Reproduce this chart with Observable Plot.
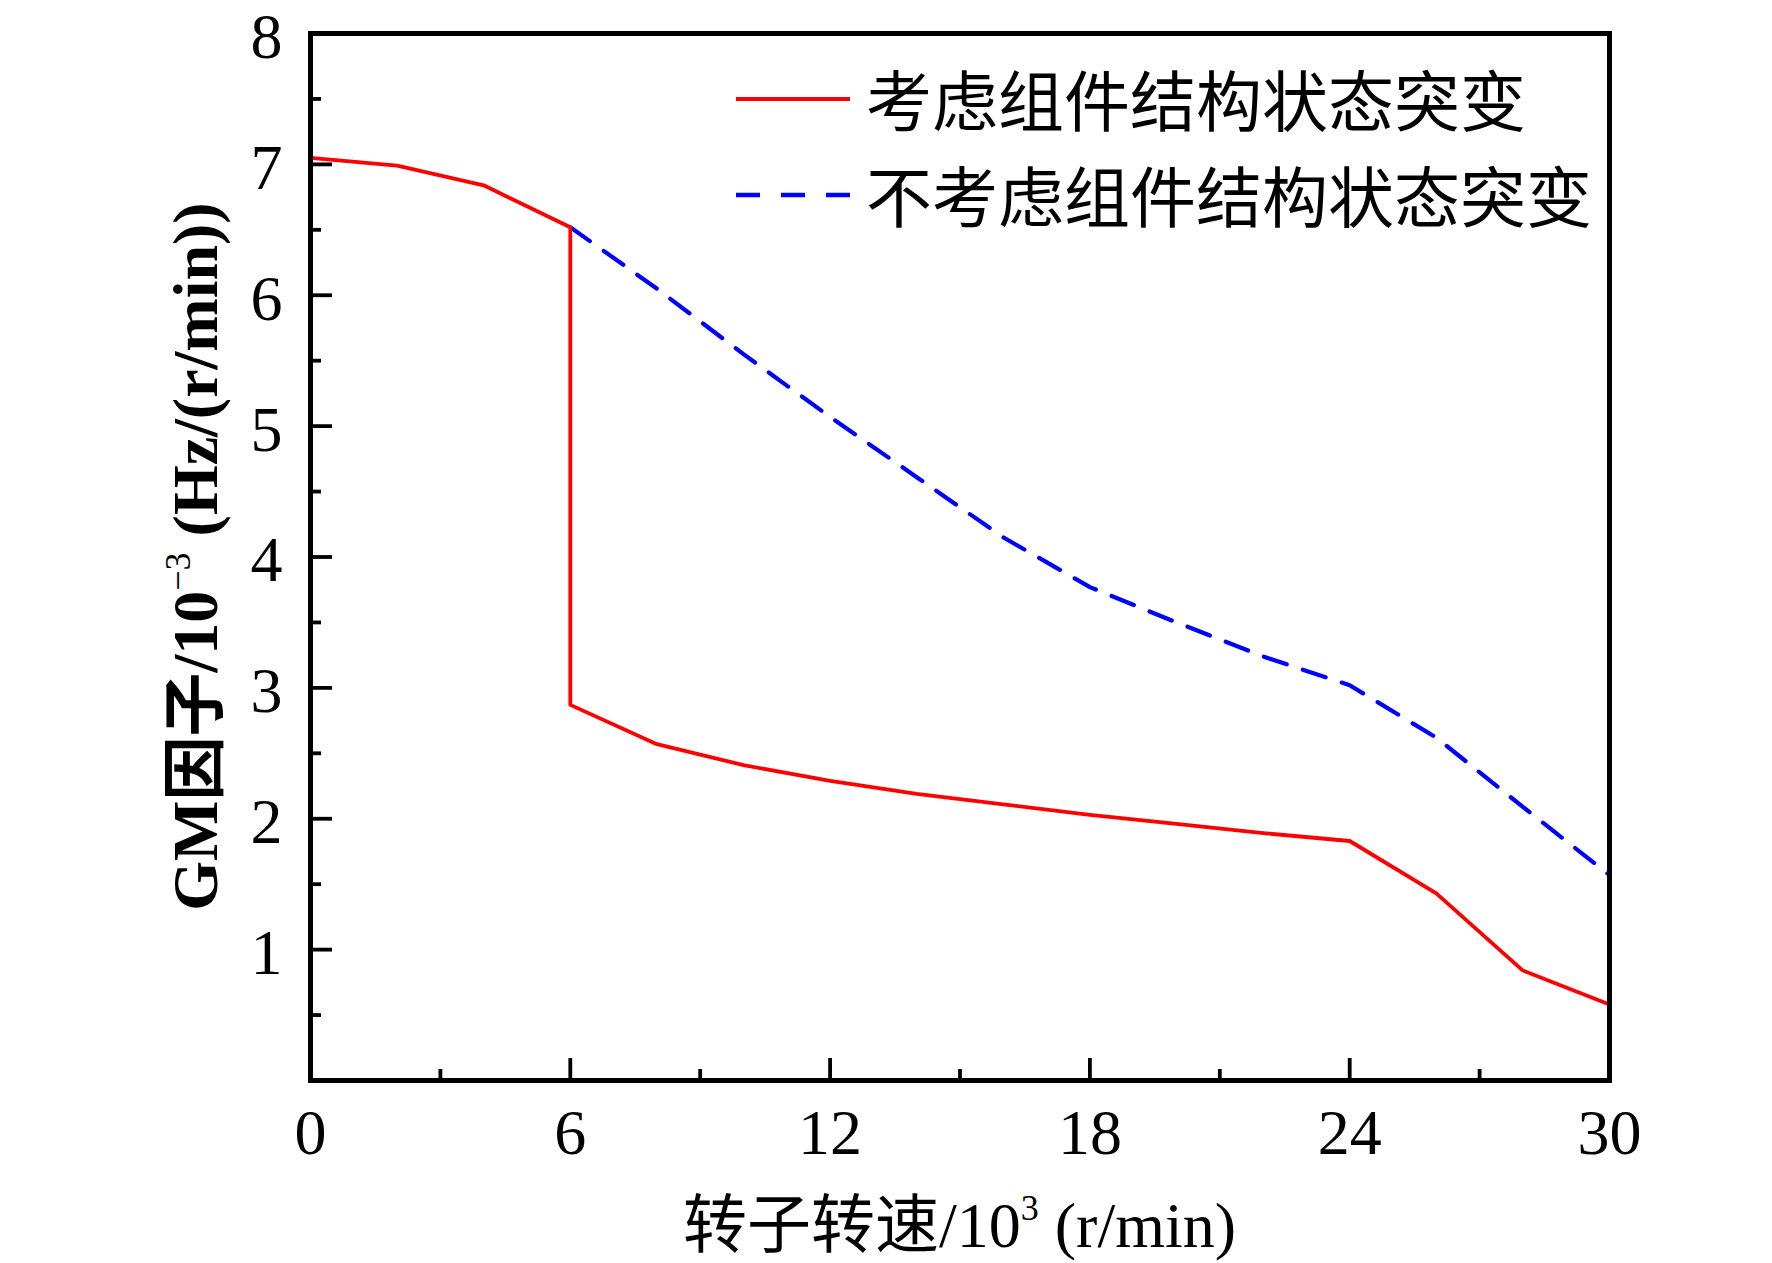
<!DOCTYPE html>
<html>
<head>
<meta charset="utf-8">
<script src="https://cdn.jsdelivr.net/npm/d3@7"></script>
<script src="https://cdn.jsdelivr.net/npm/@observablehq/plot@0.6"></script>
<style>
  html, body { margin: 0; padding: 0; background: #ffffff; }
  #chart { width: 1772px; height: 1263px; }
</style>
</head>
<body>
<div id="chart"></div>
<script>
// ---- data (rotor speed in 10^3 r/min, GM factor in 10^-3 Hz/(r/min)) ----
const speedWith = [0, 2, 4, 6, 6, 8, 10, 12, 14, 16, 18, 20, 22, 24, 26, 28, 30];
const gmWith    = [7.05, 6.99, 6.84, 6.52, 2.87, 2.57, 2.41, 2.29, 2.19, 2.11, 2.03, 1.96, 1.89, 1.83, 1.43, 0.84, 0.58];
const speedWithout = [6, 8, 10, 12, 14, 16, 18, 20, 22, 24, 26, 28, 30];
const gmWithout    = [6.52, 6.05, 5.55, 5.07, 4.61, 4.15, 3.77, 3.50, 3.24, 3.02, 2.62, 2.09, 1.57];

const seriesNames  = ["考虑组件结构状态突变", "不考虑组件结构状态突变"];
const seriesColors = ["#ff0000", "#0000ff"];

const xMajorTicks = [0, 6, 12, 18, 24, 30];
const xMinorTicks = [3, 9, 15, 21, 27];
const yMajorTicks = [1, 2, 3, 4, 5, 6, 7, 8];
const yMinorTicks = [0.5, 1.5, 2.5, 3.5, 4.5, 5.5, 6.5, 7.5];

const xLabelMain = "转子转速/10";
const xLabelSup  = "3";
const xLabelTail = " (r/min)";
const yLabelMain = "GM因子/10";
const yLabelSup  = "−3";
const yLabelTail = " (Hz/(r/min))";

// ---- layout ----
const W = 1772, H = 1263;
const mL = 310, mR = 163, mT = 33, mB = 183;
const fw = W - mL - mR, fh = H - mT - mB;
const serif = "'Liberation Serif', 'Times New Roman', 'Noto Sans CJK SC', serif";

const withData = speedWith.map((x, i) => ({x, y: gmWith[i]}));
const withoutData = speedWithout.map((x, i) => ({x, y: gmWithout[i]}));

const chart = Plot.plot({
  width: W,
  height: H,
  marginLeft: mL,
  marginRight: mR,
  marginTop: mT,
  marginBottom: mB,
  style: {fontFamily: serif, background: "#ffffff", color: "#000"},
  x: {domain: [0, 30], label: null},
  y: {domain: [0, 8], label: null},
  marks: [
    Plot.line(withoutData, {x: "x", y: "y", stroke: seriesColors[1], strokeWidth: 4.2, strokeDasharray: "24,17"}),
    Plot.line(withData, {x: "x", y: "y", stroke: seriesColors[0], strokeWidth: 3.8}),
    Plot.tickX(xMajorTicks, {x: d => d, insetTop: fh - 22, stroke: "#000", strokeWidth: 3.8}),
    Plot.tickX(xMinorTicks, {x: d => d, insetTop: fh - 11, stroke: "#000", strokeWidth: 3.8}),
    Plot.tickY(yMajorTicks, {y: d => d, insetRight: fw - 22, stroke: "#000", strokeWidth: 3.8}),
    Plot.tickY(yMinorTicks, {y: d => d, insetRight: fw - 11, stroke: "#000", strokeWidth: 3.8}),
    Plot.frame({stroke: "#000", strokeWidth: 5}),
    Plot.axisX(xMajorTicks, {tickSize: 0, tickPadding: 28, fontSize: 64, label: null, fill: "#000", tickFormat: d => String(d)}),
    Plot.axisY(yMajorTicks, {tickSize: 0, tickPadding: 28, fontSize: 64, label: null, fill: "#000", dy: 4, tickFormat: d => String(d)})
  ]
});

document.getElementById("chart").appendChild(chart);

const svg = d3.select(chart);

// x axis label
const xl = svg.append("text")
  .attr("x", mL + fw / 2)
  .attr("y", 1247)
  .attr("text-anchor", "middle")
  .style("font-family", serif)
  .style("font-size", "64px")
  .attr("fill", "#000");
xl.append("tspan").text(xLabelMain);
xl.append("tspan").attr("dy", -27).style("font-size", "36px").text(xLabelSup);
xl.append("tspan").attr("dy", 27).text(xLabelTail);

// y axis label
const yl = svg.append("text")
  .attr("transform", `translate(217, ${mT + fh / 2}) rotate(-90)`)
  .attr("text-anchor", "middle")
  .style("font-family", serif)
  .style("font-size", "64px")
  .style("font-weight", "bold")
  .attr("fill", "#000");
yl.append("tspan").text(yLabelMain);
yl.append("tspan").attr("dy", -27).style("font-size", "36px").style("font-weight", "normal").text(yLabelSup);
yl.append("tspan").attr("dy", 27).text(yLabelTail);

// legend
const legendY = [99, 195];
const dashes = [null, "24,21"];
const widths = [4, 4.5];
seriesNames.forEach((name, i) => {
  const g = svg.append("g");
  g.append("line")
    .attr("x1", 736).attr("x2", 850)
    .attr("y1", legendY[i]).attr("y2", legendY[i])
    .attr("stroke", seriesColors[i])
    .attr("stroke-width", widths[i])
    .attr("stroke-dasharray", dashes[i]);
  g.append("text")
    .attr("x", 866)
    .attr("y", legendY[i] - 2)
    .attr("text-anchor", "start")
    .attr("dominant-baseline", "central")
    .style("font-family", "'Noto Sans CJK SC', sans-serif")
    .style("font-size", "66px")
    .attr("fill", "#000")
    .text(name);
});
</script>
</body>
</html>
